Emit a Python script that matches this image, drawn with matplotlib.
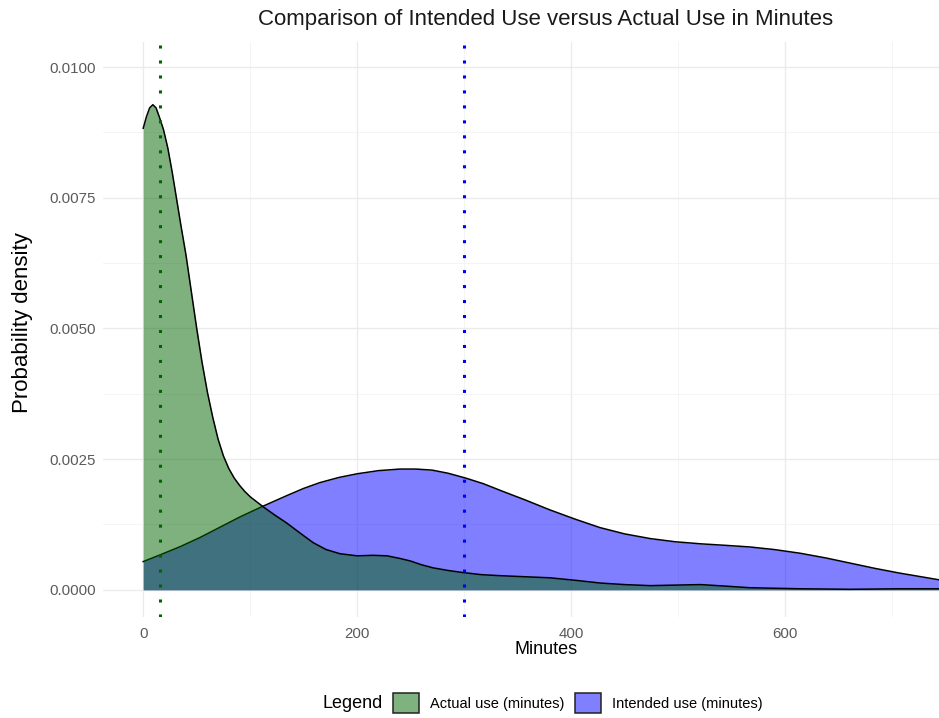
#!/usr/bin/env python3
"""
Density comparison: intended vs actual use (minutes)
"""

import matplotlib
matplotlib.use("Agg")
import matplotlib.pyplot as plt
from matplotlib.patches import Patch

plt.rcParams['font.family'] = ['Liberation Sans', 'DejaVu Sans']

# density curves (minutes, density)
actual_x = [0, 3, 6, 9, 12, 15, 19, 23, 27, 31, 35, 40, 45, 50, 55, 60, 65,
            70, 75, 80, 85, 90, 95, 100, 112, 123, 134, 147, 159, 171, 184,
            200, 215, 228, 240, 250, 260, 271, 285, 299, 316, 334, 357, 380,
            405, 427, 450, 474, 497, 521, 545, 567, 590, 614, 661, 707, 753]
actual_y = [0.00883, 0.00905, 0.00922, 0.00928, 0.00922, 0.00905, 0.00880,
            0.00845, 0.00800, 0.00750, 0.00700, 0.00640, 0.00570, 0.00500,
            0.00435, 0.00378, 0.00330, 0.00288, 0.00256, 0.00232, 0.00214,
            0.00200, 0.00188, 0.00178, 0.00159, 0.00143, 0.00128, 0.00108,
            0.00090, 0.00077, 0.00069, 0.00065, 0.00066, 0.00065, 0.00060,
            0.00055, 0.00048, 0.00042, 0.00037, 0.00033, 0.00029, 0.00027,
            0.00025, 0.00023, 0.00018, 0.00013, 0.00010, 0.00008, 0.00009,
            0.00010, 0.00007, 0.00004, 0.00003, 0.00002, 0.00001, 0.00002,
            0.00002]

intended_x = [0, 16, 35, 53, 72, 91, 112, 134, 150, 165, 183, 200, 220, 240,
              255, 270, 285, 301, 318, 334, 357, 380, 404, 427, 450, 474, 497,
              521, 545, 567, 590, 614, 638, 661, 684, 707, 730, 753]
intended_y = [0.00054, 0.00067, 0.00083, 0.00100, 0.00120, 0.00140, 0.00160,
              0.00180, 0.00194, 0.00205, 0.00215, 0.00222, 0.00228, 0.00231,
              0.00231, 0.00229, 0.00223, 0.00214, 0.00203, 0.00190, 0.00172,
              0.00153, 0.00135, 0.00119, 0.00107, 0.00098, 0.00092, 0.00088,
              0.00085, 0.00082, 0.00077, 0.00070, 0.00061, 0.00051, 0.00041,
              0.00032, 0.00024, 0.00016]

actual_ref = 16      # dotted green line
intended_ref = 300   # dotted blue line

labels = ['Actual use (minutes)', 'Intended use (minutes)']
fills = ['darkgreen', 'blue']
x_ticks = [0, 200, 400, 600]
y_ticks = [0, 0.0025, 0.005, 0.0075, 0.01]

W, H = 939, 718
fig = plt.figure(figsize=(W / 100, H / 100), dpi=100)
# panel runs past the right edge, as in the reference
ax = fig.add_axes([103 / W, 101 / H, 886 / W, 575 / H])

ax.set_xlim(-37.6, 790.6)
ax.set_ylim(-0.00052, 0.01048)

# grid (theme_minimal style)
for v in x_ticks:
    ax.axvline(v, color='#ebebeb', lw=1.0, zorder=0)
for v in [100, 300, 500, 700]:
    ax.axvline(v, color='#f2f2f2', lw=0.6, zorder=0)
for v in y_ticks:
    ax.axhline(v, color='#ebebeb', lw=1.0, zorder=0)
for v in [0.00125, 0.00375, 0.00625, 0.00875]:
    ax.axhline(v, color='#f2f2f2', lw=0.6, zorder=0)

ax.fill_between(intended_x, 0, intended_y, color=fills[1], alpha=0.5, lw=0, zorder=1)
ax.plot(intended_x, intended_y, color='black', lw=1.1, zorder=2)
ax.fill_between(actual_x, 0, actual_y, color=fills[0], alpha=0.5, lw=0, zorder=3)
ax.plot(actual_x, actual_y, color='black', lw=1.1, zorder=4)

ax.axvline(actual_ref, color='darkgreen', lw=2.2, ls=(0, (1, 3.9)), zorder=5)
ax.axvline(intended_ref, color='blue', lw=2.2, ls=(0, (1, 3.9)), zorder=5)

for s in ax.spines.values():
    s.set_visible(False)
ax.set_xticks(x_ticks)
ax.set_yticks(y_ticks)
ax.set_yticklabels([f'{v:.4f}' for v in y_ticks])
ax.tick_params(length=0, labelsize=10.8, labelcolor='#5a5a5a')
ax.tick_params(axis='x', pad=7)
ax.tick_params(axis='y', pad=5)

fig.text(546 / W, 1 - 20 / H, 'Comparison of Intended Use versus Actual Use in Minutes',
         ha='center', va='center', fontsize=16, color='#1a1a1a')
fig.text(546 / W, 1 - 650 / H, 'Minutes', ha='center', va='center',
         fontsize=13, color='black')
fig.text(23 / W, 1 - 323 / H, 'Probability density', ha='center', va='center',
         rotation=90, fontsize=16, color='black')

# legend: title to the left of the keys
fig.text(322 / W, 1 - 703 / H, 'Legend', ha='left', va='center', fontsize=13)
# key colours = fill at alpha 0.5 on white, with an opaque edge
handles = [Patch(facecolor=(0.5, 0.698, 0.5), edgecolor='#222222', lw=1.1),
           Patch(facecolor=(0.5, 0.5, 1.0), edgecolor='#222222', lw=1.1)]
fig.legend(handles, labels, loc='center left', bbox_to_anchor=(393 / W, 1 - 703 / H),
           ncol=2, frameon=False, fontsize=10.5, handlelength=1.8, handleheight=1.8,
           handletextpad=0.75, columnspacing=0.7, borderpad=0, borderaxespad=0)

fig.savefig('out.png', dpi=100)
